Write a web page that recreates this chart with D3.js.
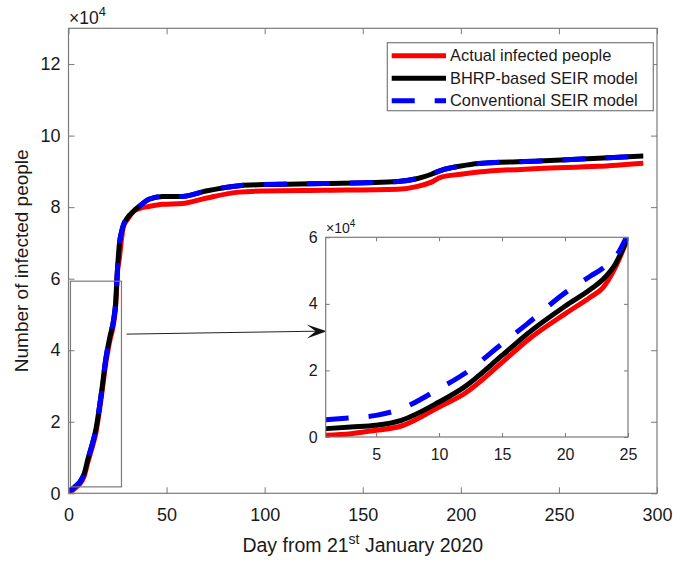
<!DOCTYPE html>
<html>
<head>
<meta charset="utf-8">
<script src="https://cdn.jsdelivr.net/npm/d3@7"></script>
<style>
  body { margin: 0; background: #fff; }
  text { font-family: "Liberation Sans", Arial, sans-serif; fill: #1a1a1a; }
</style>
</head>
<body>
<svg id="chart" width="673" height="562"></svg>
<script>
// values, in units of 10^4 people
// main plot
var days = [0, 2, 4, 6, 8, 10, 12, 14, 16, 17, 19, 21, 23, 24, 25, 26, 27, 28, 30, 33, 36, 41, 48, 58,
  70, 87, 100, 130, 168, 178, 185, 190, 200, 209, 240, 270, 293];
var actualInfected = [0.0, 0.08, 0.17, 0.28, 0.48, 0.9, 1.27, 1.7, 2.4, 2.8, 3.63, 4.25, 4.75, 5.2, 6.2,
  6.6, 7.1, 7.45, 7.65, 7.87, 7.96, 8.02, 8.08, 8.1, 8.25, 8.42, 8.45, 8.47, 8.5, 8.58, 8.7, 8.84, 8.92,
  8.98, 9.08, 9.14, 9.23];
var bhrpSeir = [0.05, 0.12, 0.22, 0.33, 0.55, 0.98, 1.35, 1.8, 2.5, 2.9, 3.75, 4.35, 4.85, 5.3, 6.3,
  7.0, 7.3, 7.5, 7.7, 7.88, 8.02, 8.22, 8.3, 8.3, 8.45, 8.6, 8.63, 8.66, 8.72, 8.8, 8.92, 9.03, 9.15,
  9.22, 9.29, 9.37, 9.43];
var convSeir = [0.05, 0.12, 0.22, 0.33, 0.55, 0.98, 1.35, 1.8, 2.5, 2.9, 3.75, 4.35, 4.85, 5.3, 6.3,
  7.0, 7.3, 7.5, 7.7, 7.88, 8.02, 8.22, 8.3, 8.3, 8.45, 8.6, 8.63, 8.66, 8.72, 8.8, 8.92, 9.03, 9.15,
  9.22, 9.29, 9.37, 9.43];

// zoomed inset (first 25 days)
var insetDays = [1, 3, 5, 7, 10, 12, 15, 17, 20, 22, 23, 24, 25];
var insetActual = [0.05, 0.1, 0.2, 0.33, 0.9, 1.3, 2.24, 2.9, 3.7, 4.2, 4.48, 5.1, 6.0];
var insetBhrp = [0.25, 0.3, 0.35, 0.5, 1.05, 1.5, 2.45, 3.1, 3.93, 4.43, 4.73, 5.2, 6.0];
var insetConv = [0.52, 0.58, 0.65, 0.85, 1.45, 1.9, 2.8, 3.4, 4.33, 4.83, 5.07, 5.4, 6.1];

var seriesNames = ['Actual infected people', 'BHRP-based SEIR model', 'Conventional SEIR model'];
var seriesColors = ['#ff0000', '#000000', '#0000ff'];
var seriesDash = [null, null, '23,20'];

var xTicks = [0, 50, 100, 150, 200, 250, 300];
var yTicks = [0, 2, 4, 6, 8, 10, 12];
var insetXTicks = [5, 10, 15, 20, 25];
var insetYTicks = [0, 2, 4, 6];
// zoom box drawn in the main plot (days, 10^4)
var zoomBox = [1, 27, 0.18, 5.93];

function toPoints(xs, vals) {
  return vals.map(function(v, i) { return { day: xs[i], value: v }; });
}
var mainSeries = [actualInfected, bhrpSeir, convSeir].map(function(v) { return toPoints(days, v); });
var insetSeries = [insetActual, insetBhrp, insetConv].map(function(v) { return toPoints(insetDays, v); });

var svg = d3.select('#chart');
var frameColor = '#7a7a7a';

var x = d3.scaleLinear().domain([0, 300]).range([68.5, 657]);
var y = d3.scaleLinear().domain([0, 13]).range([493.3, 28.3]);

var ix = d3.scaleLinear().domain([1, 25]).range([325.7, 628]);
var iy = d3.scaleLinear().domain([0, 6]).range([437, 237.3]);

function drawAxes(g, xs, ys, xt, yt, fontSize, tick, padX, padY) {
  var xr = xs.range(), yr = ys.range();
  var fmt = d3.format('d');
  var bottom = g.append('g').attr('transform', 'translate(0,' + yr[0] + ')')
    .call(d3.axisBottom(xs).tickValues(xt).tickSize(-tick).tickPadding(padX).tickFormat(fmt));
  var top = g.append('g').attr('transform', 'translate(0,' + yr[1] + ')')
    .call(d3.axisTop(xs).tickValues(xt).tickSize(-tick).tickFormat(''));
  var left = g.append('g').attr('transform', 'translate(' + xr[0] + ',0)')
    .call(d3.axisLeft(ys).tickValues(yt).tickSize(-tick).tickPadding(padY).tickFormat(fmt));
  var right = g.append('g').attr('transform', 'translate(' + xr[1] + ',0)')
    .call(d3.axisRight(ys).tickValues(yt).tickSize(-tick).tickFormat(''));
  [bottom, top, left, right].forEach(function(a) {
    a.select('.domain').remove();
    a.selectAll('line').attr('stroke', frameColor);
    a.selectAll('text').attr('font-size', fontSize).attr('fill', '#1a1a1a')
      .style('font-family', '"Liberation Sans", Arial, sans-serif');
  });
  g.append('rect')
    .attr('x', xr[0]).attr('y', yr[1])
    .attr('width', xr[1] - xr[0]).attr('height', yr[0] - yr[1])
    .attr('fill', 'none').attr('stroke', frameColor).attr('stroke-width', 1.2);
}

function drawLines(g, series, xs, ys, clipId) {
  var line = d3.line()
    .x(function(d) { return xs(d.day); })
    .y(function(d) { return ys(d.value); })
    .curve(d3.curveMonotoneX);
  series.forEach(function(s, i) {
    g.append('path')
      .datum(s)
      .attr('clip-path', 'url(#' + clipId + ')')
      .attr('d', line)
      .attr('fill', 'none')
      .attr('stroke', seriesColors[i])
      .attr('stroke-width', 5)
      .attr('stroke-dasharray', seriesDash[i]);
  });
}

var defs = svg.append('defs');
defs.append('clipPath').attr('id', 'clip-main').append('rect')
  .attr('x', x(0)).attr('y', y(13)).attr('width', x(300) - x(0)).attr('height', y(0) - y(13));
defs.append('clipPath').attr('id', 'clip-inset').append('rect')
  .attr('x', ix(1)).attr('y', iy(6)).attr('width', ix(25) - ix(1)).attr('height', iy(0) - iy(6));

// main plot
var main = svg.append('g');
drawLines(main, mainSeries, x, y, 'clip-main');
drawAxes(main, x, y, xTicks, yTicks, 18, 6, 15, 8);

main.append('text').attr('x', 69).attr('y', 24).attr('font-size', 17.5)
  .text('\u00d710').append('tspan').attr('font-size', 13).attr('dy', -8).text('4');

// zoom box and arrow
main.append('rect')
  .attr('x', x(zoomBox[0])).attr('y', y(zoomBox[3]))
  .attr('width', x(zoomBox[1]) - x(zoomBox[0]))
  .attr('height', y(zoomBox[2]) - y(zoomBox[3]))
  .attr('fill', 'none').attr('stroke', frameColor).attr('stroke-width', 1.2);

var a0 = [x(29.6), y(4.45)];
var a1 = [ix(1) + 1, iy(3.18)];
main.append('line')
  .attr('x1', a0[0]).attr('y1', a0[1]).attr('x2', a1[0] - 8).attr('y2', a1[1])
  .attr('stroke', '#222').attr('stroke-width', 1);
var ang = Math.atan2(a1[1] - a0[1], a1[0] - a0[0]);
main.append('path')
  .attr('d', 'M0,0 L-20,-7 L-11,0 L-20,7 Z')
  .attr('transform', 'translate(' + a1[0] + ',' + a1[1] + ') rotate(' + (ang * 180 / Math.PI) + ')')
  .attr('fill', '#111');

// inset
var inset = svg.append('g');
inset.append('rect')
  .attr('x', ix(1)).attr('y', iy(6))
  .attr('width', ix(25) - ix(1)).attr('height', iy(0) - iy(6))
  .attr('fill', '#fff');
drawLines(inset, insetSeries, ix, iy, 'clip-inset');
drawAxes(inset, ix, iy, insetXTicks, insetYTicks, 16, 4, 11.6, 8);
inset.append('text').attr('x', 326).attr('y', 233).attr('font-size', 14)
  .text('\u00d710').append('tspan').attr('font-size', 10).attr('dy', -6).text('4');

// axis labels
var xLabel = svg.append('text')
  .attr('x', (x(0) + x(300)) / 2).attr('y', 551.5)
  .attr('text-anchor', 'middle').attr('font-size', 19.5);
xLabel.append('tspan').text('Day from 21');
xLabel.append('tspan').attr('font-size', 14).attr('dy', -8).text('st');
xLabel.append('tspan').attr('dy', 8).text(' January 2020');

svg.append('text')
  .attr('transform', 'translate(28,' + ((y(0) + y(13)) / 2) + ') rotate(-90)')
  .attr('text-anchor', 'middle').attr('font-size', 19)
  .text('Number of infected people');

// legend
var legend = svg.append('g');
legend.append('rect')
  .attr('x', 387.3).attr('y', 42.7).attr('width', 266).attr('height', 68)
  .attr('fill', '#fff').attr('stroke', frameColor).attr('stroke-width', 1.2);
var rowY = d3.scalePoint().domain(seriesNames).range([55.7, 100.7]);
seriesNames.forEach(function(name, i) {
  legend.append('line')
    .attr('x1', 391.7).attr('x2', 446)
    .attr('y1', rowY(name)).attr('y2', rowY(name))
    .attr('stroke', seriesColors[i]).attr('stroke-width', 5)
    .attr('stroke-dasharray', seriesDash[i]);
  legend.append('text')
    .attr('x', 450).attr('y', rowY(name)).attr('dy', '0.35em')
    .attr('font-size', 16.4).text(name);
});
</script>
</body>
</html>
